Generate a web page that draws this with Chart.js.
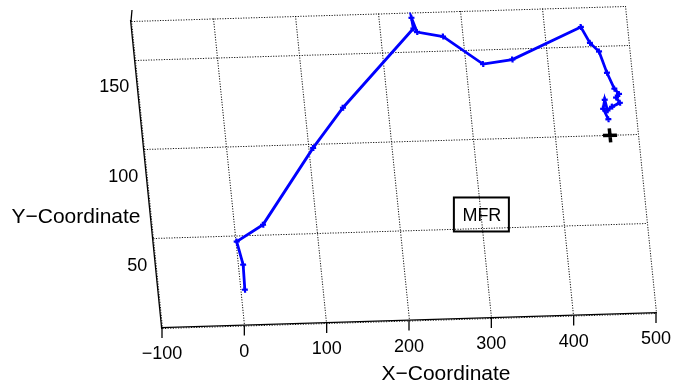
<!DOCTYPE html>
<html>
<head>
<meta charset="utf-8">
<title>MFR track</title>
<script src="https://cdn.jsdelivr.net/npm/chart.js@4/dist/chart.umd.min.js"></script>
<style>
    html, body { margin: 0; padding: 0; background: #fff; }
    #wrap { width: 680px; height: 388px; position: relative; }
</style>
</head>
<body>
<div id="wrap"><canvas id="trackChart"></canvas></div>
<script>
// Пределы осей и подписи делений
const xMin = -100, xMax = 500;
const yMin = 0, yMax = 172;
const xTicks = [-100, 0, 100, 200, 300, 400, 500];
const yTicks = [50, 100, 150];

// Траектория (синяя линия)
const trackX = [5, 6, 1, 35, 105, 146, 241, 240, 245, 276, 321, 357, 444, 453, 463, 470,
                477, 482, 478, 482, 472, 466, 464, 461, 466];
const trackY = [20, 34, 47, 56, 98, 120, 163, 169, 161, 158, 142, 144, 161, 152, 147, 135,
                126, 123, 121, 118, 116, 114, 120, 115, 109];

// Конечная точка (чёрный крест)
const finalX = [466];
const finalY = [100];

// Надпись в рамке
const noteText = 'MFR';
const noteX = 300, noteY = 58;

// Подписи осей
const xTitle = 'X\u2212Coordinate';
const yTitle = 'Y\u2212Coordinate';

// Куда на экране попадают углы области графика (наклон вида)
const corner = { bl: [162, 328], br: [656, 313], tl: [131, 21] };

let M = [1, 0, 0, 1, 0, 0];

function viewMatrix(area) {
    const w = area.right - area.left, h = area.bottom - area.top;
    const a = (corner.br[0] - corner.bl[0]) / w, b = (corner.br[1] - corner.bl[1]) / w;
    const c = (corner.bl[0] - corner.tl[0]) / h, d = (corner.bl[1] - corner.tl[1]) / h;
    const e = corner.bl[0] - a * area.left - c * area.bottom;
    const f = corner.bl[1] - b * area.left - d * area.bottom;
    return [a, b, c, d, e, f];
}

// Точка данных -> экран, через шкалы Chart.js
function project(chart, x, y) {
    const px = chart.scales.x.getPixelForValue(x);
    const py = chart.scales.y.getPixelForValue(y);
    return { x: M[0] * px + M[2] * py + M[4], y: M[1] * px + M[3] * py + M[5] };
}

function fmt(v) {
    return v < 0 ? '\u2212' + Math.abs(v) : String(v);
}

const skewView = {
    id: 'skewView',
    beforeDraw(chart) {
        const ctx = chart.ctx;
        ctx.save();
        ctx.fillStyle = '#fff';
        ctx.fillRect(0, 0, chart.width, chart.height);
        M = viewMatrix(chart.chartArea);
        ctx.transform(M[0], M[1], M[2], M[3], M[4], M[5]);
    },
    afterDraw(chart) {
        const ctx = chart.ctx;
        ctx.restore();
        ctx.save();
        ctx.fillStyle = '#000';
        ctx.strokeStyle = '#000';
        ctx.lineWidth = 1.3;

        // ось Y чуть выступает над рамкой
        const top = project(chart, xMin, yMax);
        ctx.beginPath();
        ctx.moveTo(top.x, top.y);
        ctx.lineTo(top.x + 1, top.y - 11);
        ctx.stroke();

        // деления и подписи оси X
        ctx.font = '18px "Liberation Sans", Arial, sans-serif';
        ctx.textAlign = 'center';
        ctx.textBaseline = 'alphabetic';
        xTicks.forEach(v => {
            const p = project(chart, v, yMin);
            ctx.beginPath();
            ctx.moveTo(p.x, p.y);
            ctx.lineTo(p.x, p.y + 10);
            ctx.stroke();
            ctx.fillText(fmt(v), p.x, p.y + 31);
        });

        // подписи оси Y
        ctx.textAlign = 'right';
        yTicks.forEach(v => {
            const p = project(chart, xMin, v);
            const ly = p.y + 32;
            const lx = p.x + (ly - p.y) * M[2] / M[3] - 9;
            ctx.fillText(fmt(v), lx, ly);
        });

        // названия осей
        ctx.font = '21px "Liberation Sans", Arial, sans-serif';
        ctx.textAlign = 'center';
        ctx.fillText(xTitle, 446, 380);
        ctx.fillText(yTitle, 76, 223);

        // надпись MFR в рамке
        const n = project(chart, noteX, noteY);
        ctx.font = '18px "Liberation Sans", Arial, sans-serif';
        ctx.lineWidth = 2;
        ctx.strokeRect(n.x - 27, n.y - 17, 55, 34);
        ctx.fillText(noteText, n.x + 1, n.y + 7);
        ctx.restore();
    }
};

const gridOpts = { color: 'rgba(0,0,0,0.9)', lineWidth: 1, drawTicks: false };
const borderOpts = { display: true, color: '#000', width: 1.3, dash: [1.2, 1.4] };

new Chart(document.getElementById('trackChart').getContext('2d'), {
    type: 'scatter',
    data: {
        datasets: [{
            data: trackX.map((x, i) => ({ x: x, y: trackY[i] })),
            showLine: true,
            borderColor: '#0000ff',
            backgroundColor: '#0000ff',
            borderWidth: 2.8,
            pointStyle: 'cross',
            pointRadius: 3,
            pointBorderWidth: 2.2,
            tension: 0
        }, {
            data: finalX.map((x, i) => ({ x: x, y: finalY[i] })),
            showLine: false,
            borderColor: '#000',
            backgroundColor: '#000',
            pointStyle: 'cross',
            pointRadius: 7,
            pointBorderWidth: 3.5
        }]
    },
    options: {
        responsive: true,
        maintainAspectRatio: false,
        animation: false,
        events: [],
        layout: { padding: { left: 162, right: 24, top: 21, bottom: 60 } },
        plugins: {
            legend: { display: false },
            tooltip: { enabled: false }
        },
        scales: {
            x: {
                type: 'linear',
                min: xMin,
                max: xMax,
                afterBuildTicks: s => { s.ticks = xTicks.map(v => ({ value: v })); },
                ticks: { display: false },
                grid: gridOpts,
                border: borderOpts
            },
            y: {
                type: 'linear',
                min: yMin,
                max: yMax,
                afterBuildTicks: s => { s.ticks = [yMin, ...yTicks, yMax].map(v => ({ value: v })); },
                ticks: { display: false },
                grid: gridOpts,
                border: borderOpts
            }
        }
    },
    plugins: [skewView]
});
</script>
</body>
</html>
